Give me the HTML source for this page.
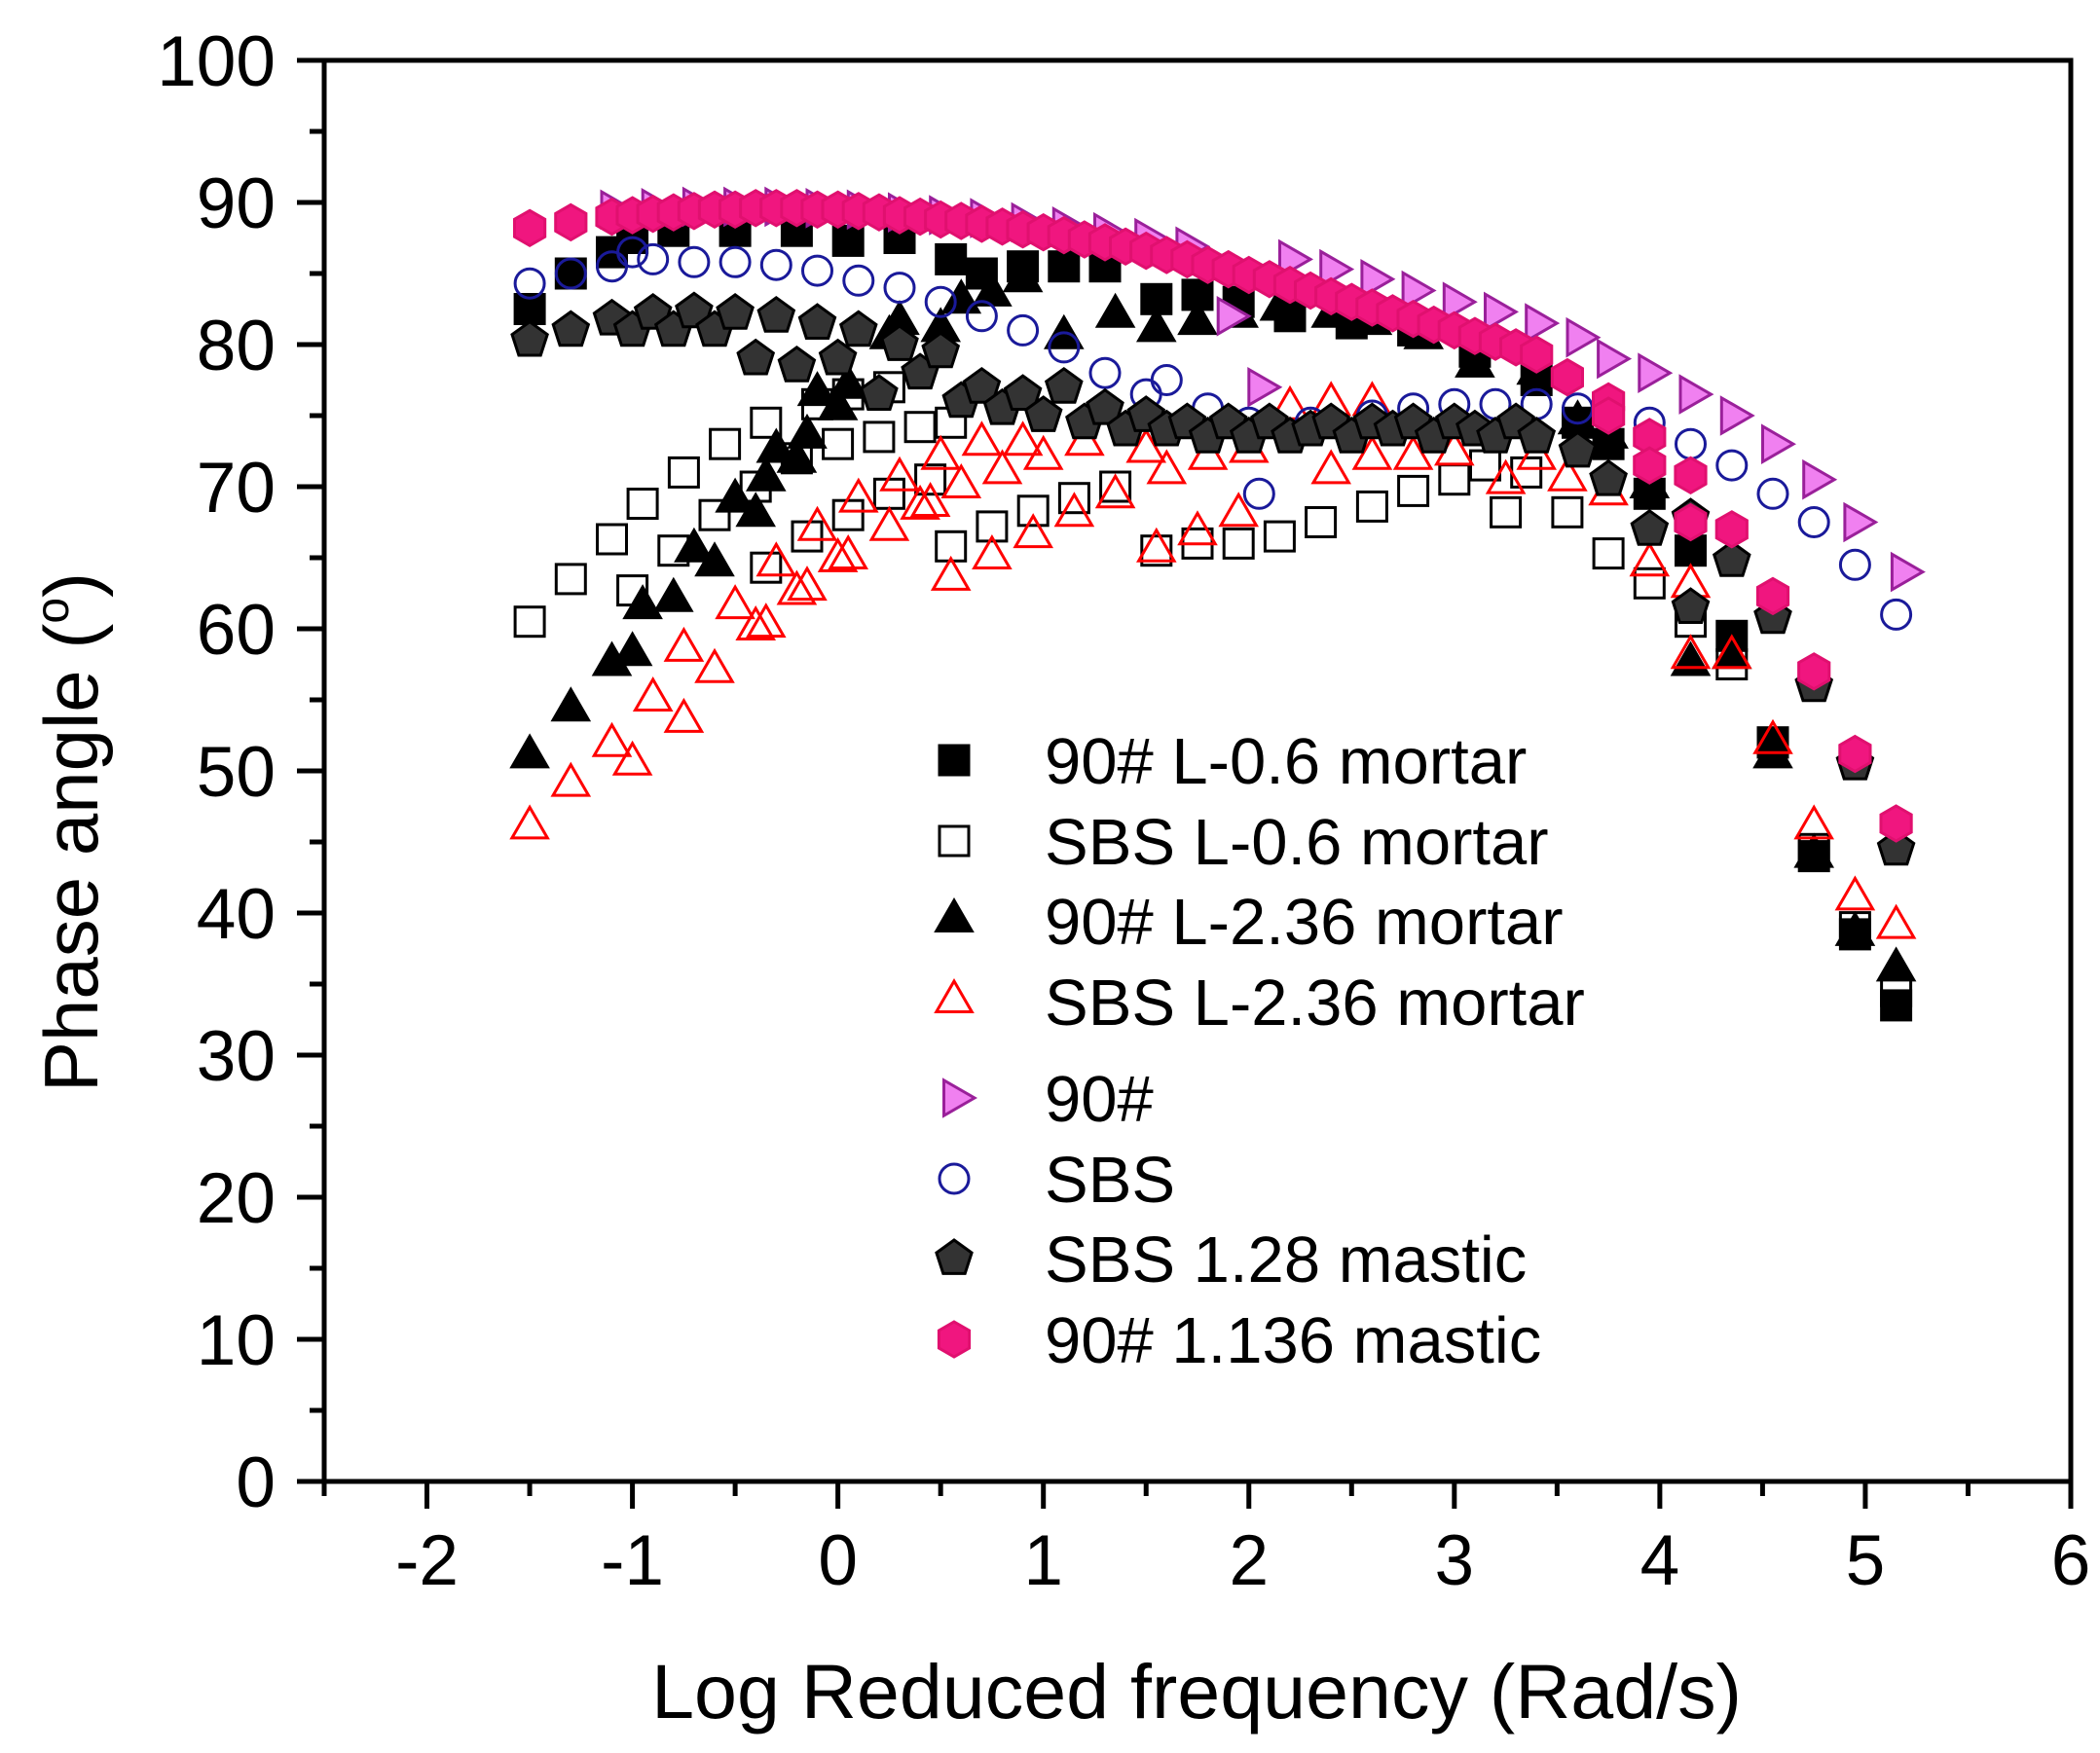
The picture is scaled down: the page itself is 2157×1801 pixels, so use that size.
<!DOCTYPE html>
<html><head><meta charset="utf-8"><style>
html,body{margin:0;padding:0;background:#fff;}
svg{display:block;font-family:"Liberation Sans",Arial,sans-serif;}
</style></head><body>
<svg id="chart" width="2157" height="1801" viewBox="0 0 2157 1801" xmlns="http://www.w3.org/2000/svg">
<rect x="0" y="0" width="2157" height="1801" fill="#fff"/>
<g id="axes"></g>
<g id="marks"></g>
<g id="legend"></g>
<text x="0" y="0" transform="translate(100,855) rotate(-90)" text-anchor="middle" font-size="78" fill="#000">Phase angle (<tspan dy="-30" font-size="48">o</tspan><tspan dy="30">)</tspan></text>
<text x="1229" y="1765" text-anchor="middle" font-size="79" fill="#000">Log Reduced frequency (Rad/s)</text>
</svg>
<script>
// ---- data ----
const xTicks = [-2,-1,0,1,2,3,4,5,6];
const yTicks = [0,10,20,30,40,50,60,70,80,90,100];
const seriesNames = ["90# L-0.6 mortar","SBS L-0.6 mortar","90# L-2.36 mortar","SBS L-2.36 mortar","90#","SBS","SBS 1.28 mastic","90# 1.136 mastic"];
const s1x = [-1.5,-1.3,-1.1,-1.0,-0.8,-0.5,-0.2,0.05,0.3,0.55,0.7,0.9,1.1,1.3,1.55,1.75,1.95,2.2,2.5,2.8,3.1,3.4,3.6,3.75,3.95,4.15,4.35,4.55,4.75,4.95,5.15];
const s1y = [82.5,85,86.5,87.5,88,88,88,87.3,87.5,86,85,85.5,85.5,85.5,83.2,83.5,83,82,81.5,81,79.5,77.5,74.5,73,69.5,65.5,59.5,52,44,38.5,33.5];
const s2x = [-1.5,-1.3,-1.1,-0.95,-0.75,-0.55,-0.35,-0.1,0.05,0.25,-1.0,-0.8,-0.6,-0.4,-0.2,0.0,0.2,0.4,0.55,-0.35,-0.15,0.05,0.25,0.45,0.55,0.75,0.95,1.15,1.35,1.55,1.75,1.95,2.15,2.35,2.6,2.8,3.0,3.15,3.35,3.25,3.55,3.75,3.95,4.15,4.35,4.55,4.75,4.95,5.15];
const s2y = [60.5,63.5,66.3,68.8,71,73,74.5,75.8,76.5,77,62.7,65.5,68,70,72,73,73.5,74.2,74.5,64.3,66.5,68,69.5,70.5,65.8,67.2,68.3,69.2,70,65.5,66,66,66.5,67.5,68.6,69.7,70.5,71.5,71,68.2,68.2,65.3,63.2,60.5,57.5,52,44.5,39,34.5];
const s3x = [-1.5,-1.3,-1.1,-1.0,-0.95,-0.8,-0.7,-0.6,-0.5,-0.4,-0.35,-0.3,-0.2,-0.15,-0.1,0.0,0.05,0.25,0.3,0.5,0.6,0.75,0.9,1.1,1.35,1.55,1.75,1.95,2.15,2.4,2.6,2.85,3.1,3.4,3.6,3.75,3.95,4.15,4.35,4.55,4.75,4.95,5.15];
const s3y = [51,54.3,57.5,58.2,61.5,62,65.5,64.5,69,68,70.5,72.5,71.8,73.5,76.5,75.5,77,80.5,81.5,81,83,83.5,84.5,80.5,82,81,81.5,82,82.5,82,81.5,80.5,78.5,78,74.5,73.5,70,57.5,58,51,44,38.5,36];
const s4x = [-1.5,-1.3,-1.1,-1.0,-0.9,-0.75,-0.75,-0.6,-0.5,-0.4,-0.35,-0.3,-0.2,-0.15,-0.1,0.0,0.05,0.1,0.25,0.3,0.4,0.45,0.5,0.55,0.6,0.7,0.75,0.8,0.9,0.95,1.0,1.15,1.2,1.35,1.5,1.55,1.75,1.95,1.6,1.8,2.0,2.2,2.4,2.6,2.4,2.6,2.8,3.0,3.25,3.4,3.55,3.75,3.95,4.15,4.15,4.35,4.55,4.75,4.95,5.15];
const s4y = [46,49,51.8,50.5,55,53.5,58.5,57,61.5,60,60.2,64.5,62.5,62.8,67,64.8,65,69,67,70.5,68.5,68.7,72,63.5,70,73,65,71,73,66.5,72,68,73,69.3,72.5,65.5,66.7,68,71,72,72.5,75.5,75.8,75.8,71,72,72,72.3,70.3,72,70.5,69.5,64.5,63,58,58,52,46,41,39];
const s5x = [-1.1,-0.9,-0.7,-0.5,-0.3,-0.1,0.1,0.3,0.5,0.7,0.9,1.1,1.3,1.5,1.7,1.9,2.05,2.2,2.4,2.6,2.8,3.0,3.2,3.4,3.6,3.75,3.95,4.15,4.35,4.55,4.75,4.95,5.18];
const s5y = [89.5,89.6,89.7,89.7,89.7,89.6,89.5,89.3,89.1,88.9,88.6,88.3,87.9,87.5,86.9,82,77,86,85.3,84.6,83.8,83,82.3,81.5,80.5,79,78,76.5,75,73,70.5,67.5,64];
const s6x = [-1.5,-1.3,-1.1,-1.0,-0.9,-0.7,-0.5,-0.3,-0.1,0.1,0.3,0.5,0.7,0.9,1.1,1.3,1.5,1.6,1.8,2.0,2.05,2.3,2.6,2.8,3.0,3.2,3.4,3.6,3.95,4.15,4.35,4.55,4.75,4.95,5.15];
const s6y = [84.3,85,85.5,86.5,86,85.8,85.8,85.6,85.2,84.5,84,83,82,81,79.8,78,76.5,77.5,75.5,74.5,69.5,74.5,75,75.5,75.8,75.8,75.8,75.5,74.5,73,71.5,69.5,67.5,64.5,61];
const s7x = [-1.5,-1.3,-1.1,-1.0,-0.9,-0.8,-0.7,-0.6,-0.5,-0.4,-0.3,-0.2,-0.1,0.0,0.1,0.2,0.3,0.4,0.5,0.6,0.7,0.8,0.9,1.0,1.1,1.2,1.3,1.4,1.5,1.6,1.7,1.8,1.9,2.0,2.1,2.2,2.3,2.4,2.5,2.6,2.7,2.8,2.9,3.0,3.1,3.2,3.3,3.4,3.6,3.75,3.95,4.15,4.15,4.35,4.55,4.75,4.95,5.15];
const s7y = [80.3,81,81.8,81,82.2,81,82.3,81,82.2,79,82,78.5,81.5,79,81,76.5,80,78,79.5,76,77,75.5,76.5,75,77,74.5,75.5,74,75,74,74.5,73.5,74.5,73.5,74.5,73.5,74,74.5,73.5,74.5,74,74.5,73.5,74.5,74,73.5,74.5,73.5,72.5,70.5,67,61.5,67.8,64.8,60.8,56,50.5,44.5];
const s8x = [-1.5,-1.3,-1.1,-1.0,-0.9,-0.8,-0.7,-0.6,-0.5,-0.4,-0.3,-0.2,-0.1,0.0,0.1,0.2,0.3,0.4,0.5,0.6,0.7,0.8,0.9,1.0,1.1,1.2,1.3,1.4,1.5,1.6,1.7,1.8,1.9,2.0,2.1,2.2,2.3,2.4,2.5,2.6,2.7,2.8,2.9,3.0,3.1,3.2,3.3,3.4,3.55,3.75,3.75,3.95,3.95,4.15,4.15,4.35,4.55,4.75,4.95,5.15];
const s8y = [88.2,88.6,89,89.1,89.2,89.3,89.4,89.5,89.5,89.6,89.6,89.6,89.5,89.5,89.4,89.3,89.1,89,88.8,88.7,88.5,88.3,88.1,87.9,87.7,87.4,87.2,86.9,86.6,86.3,86,85.6,85.3,84.9,84.6,84.2,83.8,83.4,83,82.6,82.2,81.8,81.4,81,80.6,80.2,79.8,79.3,77.7,76,75,73.5,71.5,70.8,67.5,67,62.3,57,51.2,46.3];

// ---- geometry ----
const L=333, R=2127, T=62, B=1522, X0=-2.5, X1=6, Y0=0, Y1=100;
const xs = v => L + (v - X0) / (X1 - X0) * (R - L);
const ys = v => B - (v - Y0) / (Y1 - Y0) * (B - T);
const NS = "http://www.w3.org/2000/svg";
function mk(tag, parent, attrs){ const e=document.createElementNS(NS,tag); for(const k in attrs) e.setAttribute(k,attrs[k]); parent.appendChild(e); return e; }

const axes = document.getElementById('axes');
let frame = mk('rect', axes, {x:L,y:T,width:R-L,height:B-T,fill:'none',stroke:'#000','stroke-width':5});


xTicks.forEach(v=>{
  const x=xs(v);
  const t=mk('line',axes,{x1:x,y1:B,x2:x,y2:B+28,stroke:'#000','stroke-width':5});
  
  
  const lb=mk('text',axes,{x:x,y:B+106,'text-anchor':'middle','font-size':73,fill:'#000'});
  lb.textContent = String(v);
  
  
  if (v < X1) {
    const m=mk('line',axes,{x1:xs(v+0.5),y1:B,x2:xs(v+0.5),y2:B+15,stroke:'#000','stroke-width':5});
    
    
  }
});
let m0=mk('line',axes,{x1:xs(-2.5),y1:B,x2:xs(-2.5),y2:B+15,stroke:'#000','stroke-width':5});


yTicks.forEach(v=>{
  const y=ys(v);
  const t=mk('line',axes,{x1:L-28,y1:y,x2:L,y2:y,stroke:'#000','stroke-width':5});
  
  
  const lb=mk('text',axes,{x:L-50,y:y+26,'text-anchor':'end','font-size':73,fill:'#000'});
  lb.textContent = String(v);
  
  
  if (v < Y1) {
    const m=mk('line',axes,{x1:L-15,y1:ys(v+5),x2:L,y2:ys(v+5),stroke:'#000','stroke-width':5});
    
    
  }
});

// ---- markers ----
function poly(n, r, rot){ let p=[]; for(let i=0;i<n;i++){const a=rot+i*2*Math.PI/n; p.push((r*Math.cos(a)).toFixed(1)+','+(r*Math.sin(a)).toFixed(1));} return p.join(' '); }
const styles = [
  {shape:'square', fill:'#000', stroke:'#000'},
  {shape:'square', fill:'none', stroke:'#000'},
  {shape:'tri', fill:'#000', stroke:'#000'},
  {shape:'tri', fill:'none', stroke:'#ff0000'},
  {shape:'rtri', fill:'#f080f0', stroke:'#9a209a'},
  {shape:'circle', fill:'none', stroke:'#1a1a9a'},
  {shape:'pent', fill:'#333', stroke:'#000'},
  {shape:'hex', fill:'#f0167f', stroke:'#e0106f'}
];
function marker(parent, st, cx, cy){
  const g = mk('g', parent, {transform:`translate(${cx.toFixed(1)},${cy.toFixed(1)})`});
  const a = {fill:st.fill, stroke:st.stroke, 'stroke-width':3};
  if (st.shape==='square') mk('rect', g, Object.assign({x:-15,y:-15,width:30,height:30}, a));
  else if (st.shape==='tri') mk('polygon', g, Object.assign({points:poly(3,21,-Math.PI/2)}, a));
  else if (st.shape==='rtri') mk('polygon', g, Object.assign({points:poly(3,21,0)}, a));
  else if (st.shape==='circle') mk('circle', g, Object.assign({r:15}, a));
  else if (st.shape==='pent') mk('polygon', g, Object.assign({points:poly(5,19,-Math.PI/2)}, a));
  else if (st.shape==='hex') mk('polygon', g, Object.assign({points:poly(6,18,-Math.PI/2)}, a));
  return g;
}
const allX=[s1x,s2x,s3x,s4x,s5x,s6x,s7x,s8x], allY=[s1y,s2y,s3y,s4y,s5y,s6y,s7y,s8y];
const marks = document.getElementById('marks');
allX.forEach((xa,si)=>{
  const g = mk('g', marks, {});
  
  
  xa.forEach((xv,i)=>{
    const m = marker(g, styles[si], xs(xv), ys(allY[si][i]));
    
    
  });
});

// ---- legend ----
const legend = document.getElementById('legend');
const legY = [781,864,946,1029,1128,1211,1293,1376];
seriesNames.forEach((n,i)=>{
  const g = mk('g', legend, {});
  
  
  marker(g, styles[i], 980, legY[i]);
  const t = mk('text', g, {x:1073, y:legY[i]+24, 'font-size':67, fill:'#000'});
  t.textContent = n;
});
</script>
</body></html>
